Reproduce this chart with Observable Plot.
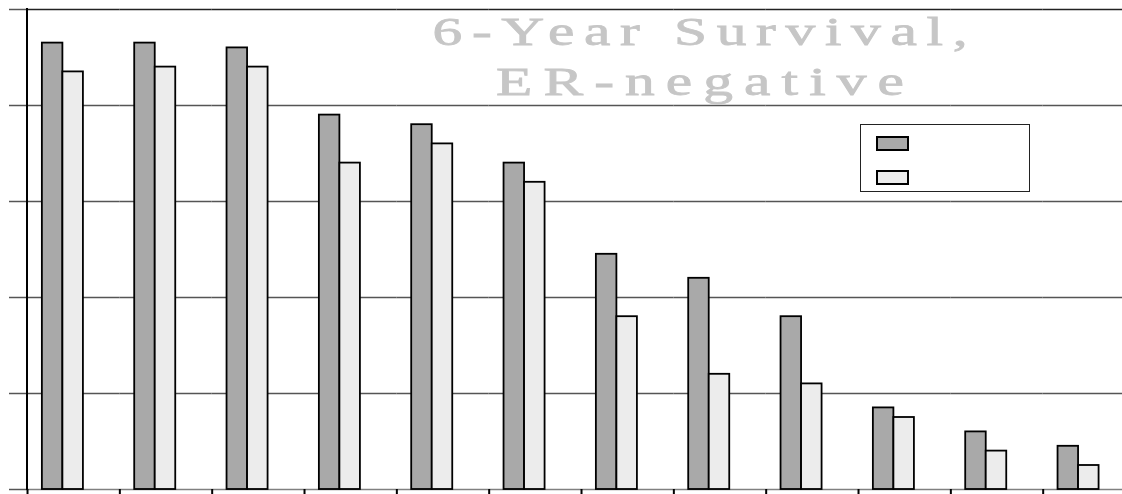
<!DOCTYPE html>
<html>
<head>
<meta charset="utf-8">
<script src="https://cdn.jsdelivr.net/npm/d3@7"></script>
<script src="https://cdn.jsdelivr.net/npm/@observablehq/plot@0.6"></script>
<style>
  html, body { margin: 0; padding: 0; background: #fff; overflow: hidden; }
  #wrap { position: relative; width: 1122px; height: 494px; overflow: hidden; }
  #wrap > svg { position: absolute; left: 0; top: 0; max-width: none !important; }
  .title { font-family: "Liberation Serif", "Times New Roman", "DejaVu Serif", serif; font-size: 41px; font-weight: normal; fill: #c6c6c6; stroke: #c6c6c6; stroke-width: 0.8px; }
  .legend { position: absolute; left: 860px; top: 124px; width: 168px; height: 66px; border: 1.6px solid #222; background: #fff; }
  .sw { position: absolute; left: 15px; width: 29px; height: 11px; border: 2px solid #000; }
</style>
</head>
<body>
<div id="wrap"></div>
<script>
// ---- data ----
const groups = ["1","2","3","4","5","6","7","8","9","10","11","12"];
const series = ["Series 1", "Series 2"];
const valuesA = [93, 93, 92, 78, 76, 68, 49, 44, 36, 17, 12, 9];
const valuesB = [87, 88, 88, 68, 72, 64, 36, 24, 22, 15, 8, 5];
const seriesColors = ["#a9a9a9", "#ececec"];
const yTicks = [0, 20, 40, 60, 80, 100];
const titleLines = ["6-Year Survival,", "ER-negative"];

const data = groups.flatMap((g, i) => [
  {group: g, series: series[0], value: valuesA[i]},
  {group: g, series: series[1], value: valuesB[i]}
]);

const plot = Plot.plot({
  width: 1135,
  height: 496,
  marginLeft: 27,
  marginRight: 0,
  marginTop: 9,
  marginBottom: 7,
  style: {maxWidth: "none", height: "496px"},
  fx: {domain: groups, padding: 0, round: false, label: null},
  x: {domain: series, paddingInner: 0, paddingOuter: 1.25, align: 0.29, round: false, axis: null},
  y: {domain: [0, 100], label: null},
  color: {domain: series, range: seriesColors},
  marks: [
    Plot.ruleY(yTicks.filter(v => v > 0 && v < 100), {stroke: "#555", strokeWidth: 1.5}),
    Plot.ruleY([100], {stroke: "#222", strokeWidth: 1.5}),
    Plot.ruleY([0], {stroke: "#808080", strokeWidth: 1.6}),
    Plot.barY(data, {fx: "group", x: "series", y: "value", fill: "series", stroke: "#000", strokeWidth: 1.8, inset: 0}),
    Plot.axisY({ticks: yTicks, tickSize: 18, tickFormat: () => "", stroke: "#555", strokeWidth: 1.5, label: null}),
    Plot.axisFx({anchor: "bottom", tickSize: 7, tickFormat: () => "", dx: -46.15, stroke: "#000", strokeWidth: 2, label: null})
  ]
});
plot.style.maxWidth = "none";
plot.style.width = "1135px";
plot.style.height = "496px";

const wrap = document.getElementById("wrap");
wrap.appendChild(plot);

// left axis line, positioned from the library's scales
const fx = plot.scale("fx");
const ys = plot.scale("y");
const x0 = fx.apply(groups[0]);
d3.select(plot).append("line")
  .attr("x1", x0).attr("x2", x0)
  .attr("y1", ys.apply(0) + 1).attr("y2", ys.apply(100) - 1)
  .attr("stroke", "#000").attr("stroke-width", 2);

// title overlay (widened serif, letter-spaced to the reference width)
const tsvg = d3.select(wrap).append("svg")
  .attr("width", 1122).attr("height", 494)
  .style("position", "absolute").style("left", 0).style("top", 0)
  .style("pointer-events", "none");
const stretch = 1.45;
const lens = [535, 408];
const bases = [45, 95];
const tg = tsvg.append("g").attr("transform", `translate(700,0) scale(${stretch},1)`);
titleLines.forEach((t, i) => {
  tg.append("text")
    .attr("class", "title")
    .attr("x", 0).attr("y", bases[i])
    .attr("text-anchor", "middle")
    .attr("textLength", lens[i] / stretch)
    .attr("lengthAdjust", "spacing")
    .text(t);
});

// legend (swatches only, as in the reference)
const legend = d3.select(wrap).append("div").attr("class", "legend");
series.forEach((s, i) => {
  legend.append("div").attr("class", "sw")
    .attr("title", s)
    .style("top", (11 + i * 34) + "px")
    .style("background", seriesColors[i]);
});
</script>
</body>
</html>
